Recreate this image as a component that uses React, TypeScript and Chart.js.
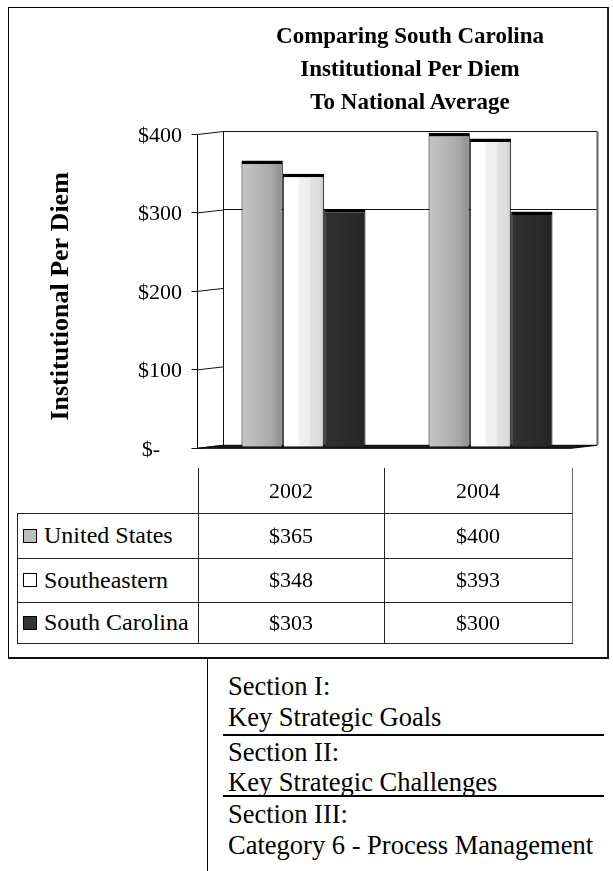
import React, { useEffect, useRef } from 'react';
import { Chart, registerables } from 'chart.js';

Chart.register(...registerables);

// ---- data ----
const categories = ['2002', '2004'];
const seriesNames = ['United States', 'Southeastern', 'South Carolina'];
const unitedStates = [365, 400];
const southeastern = [348, 393];
const southCarolina = [303, 300];
const seriesValues = [unitedStates, southeastern, southCarolina];
const yTicks = [0, 100, 200, 300, 400];
const backWallGridValues = [300, 400];
const titleLines = ['Comparing South Carolina', 'Institutional Per Diem', 'To National Average'];
const yAxisTitle = 'Institutional Per Diem';
const sectionBlocks = [
  ['Section I:', 'Key Strategic Goals'],
  ['Section II:', 'Key Strategic Challenges'],
  ['Section III:', 'Category 6 - Process Management'],
];

// ---- styles ----
const SERIF = '"Liberation Serif", "Times New Roman", serif';
const CAT_PCT = 0.663;
const swatchColors = ['#bdbdbd', '#ffffff', '#333333'];
const gradientStops: [number, string][][] = [
  [[0, '#c6c6c6'], [0.45, '#b4b4b4'], [0.75, '#a6a6a6'], [1, '#8c8c8c']],
  [[0, '#ffffff'], [0.36, '#ffffff'], [0.4, '#f1f1f1'], [0.64, '#eeeeee'], [0.68, '#e2e2e2'], [0.9, '#dcdcdc'], [1, '#c4c4c4']],
  [[0, '#313131'], [0.5, '#2c2c2c'], [1, '#252525']],
];

const fmt = (v: number) => (v === 0 ? '$-    ' : '$' + v);

function barFill(dsIndex: number) {
  return (c: any) => {
    const chart = c.chart;
    const xs = chart.scales && chart.scales.x;
    const stops = gradientStops[dsIndex];
    if (!xs || c.dataIndex == null || !isFinite(xs.left) || !isFinite(xs.right)) return stops[1][1];
    const catW = (xs.right - xs.left) / categories.length;
    const cx = xs.getPixelForValue(c.dataIndex);
    const groupW = catW * CAT_PCT;
    const bw = groupW / seriesValues.length;
    const left = cx - groupW / 2 + bw * dsIndex;
    const g = chart.ctx.createLinearGradient(left, 0, left + bw, 0);
    stops.forEach(([o, col]) => g.addColorStop(o, col));
    return g;
  };
}

const crisp = (v: number) => Math.round(v - 0.5) + 0.5;

const wallPlugin = {
  id: 'wall3d',
  beforeDatasetsDraw(chart: any) {
    const { ctx, chartArea: a, scales } = chart;
    const y = scales.y;
    const DX = 13;
    const DY = 1.5;
    const fl = crisp(a.left - DX);
    const fr = a.right - DX;
    const bl = crisp(a.left + DX);
    const br = a.right + DX;
    const y0 = y.getPixelForValue(0);
    const yMax = y.getPixelForValue(y.max);
    const line = (x1: number, y1: number, x2: number, y2: number, col = '#111', w = 1) => {
      ctx.beginPath();
      ctx.strokeStyle = col;
      ctx.lineWidth = w;
      ctx.moveTo(x1, y1);
      ctx.lineTo(x2, y2);
      ctx.stroke();
    };
    ctx.save();
    // floor
    ctx.beginPath();
    ctx.moveTo(fl, y0 + DY);
    ctx.lineTo(fr, y0 + DY);
    ctx.lineTo(br, y0 - DY);
    ctx.lineTo(bl, y0 - DY);
    ctx.closePath();
    ctx.fillStyle = '#1a1a1a';
    ctx.fill();
    ctx.strokeStyle = '#000';
    ctx.lineWidth = 1;
    ctx.stroke();
    // side wall + tick marks at every tick
    y.ticks.forEach((t: any) => {
      const py = y.getPixelForValue(t.value);
      line(fl, py + DY, bl, py - DY);
      line(fl - 6, crisp(py + DY), fl, crisp(py + DY));
    });
    // back wall grid lines
    backWallGridValues.forEach((v) => {
      const py = y.getPixelForValue(v);
      line(bl, crisp(py - DY), br, crisp(py - DY));
    });
    // back wall verticals
    line(bl, yMax - DY, bl, y0 - DY);
    line(br + 0.5, yMax - DY, br + 0.5, y0 - DY, '#666', 2);
    // front axis
    line(fl, yMax + DY, fl, y0 + DY, '#000');
    ctx.restore();
  },
};

// ---- layout (page coordinates) ----
const TABLE_X = [17, 198, 384, 572];
const TABLE_Y = [468, 513, 558, 602, 643];
const SECTION_LINE_CENTERS = [[686, 717], [752, 782], [814, 845]];
const SECTION_RULES = [734, 795];

export default function App() {
  const ref = useRef<HTMLCanvasElement>(null);

  useEffect(() => {
    const chart = new Chart(ref.current as HTMLCanvasElement, {
      type: 'bar',
      data: {
        labels: categories,
        datasets: seriesValues.map((vals, i) => ({
          label: seriesNames[i],
          data: vals,
          backgroundColor: barFill(i),
          borderColor: '#000',
          borderWidth: { top: 3.5, left: 1, right: 1, bottom: 0 },
          categoryPercentage: CAT_PCT,
          barPercentage: 1,
        })),
      },
      options: {
        animation: false,
        responsive: false,
        layout: { padding: { left: 35, right: 24, top: 125, bottom: 21.5 } },
        plugins: {
          legend: { display: false },
          title: { display: false },
          tooltip: { enabled: false },
        },
        scales: {
          x: { display: false },
          y: {
            min: 0,
            max: 400,
            afterBuildTicks: (s: any) => {
              s.ticks = yTicks.map((v) => ({ value: v }));
            },
            afterFit: (s: any) => {
              s.width = 167;
            },
            grid: { display: false, drawTicks: false },
            border: { display: false },
            ticks: {
              padding: 28,
              labelOffset: 3,
              color: '#000',
              font: { family: SERIF, size: 22 },
              callback: (v: any) => fmt(Number(v)),
            },
            title: {
              display: true,
              text: yAxisTitle + '  ',
              color: '#000',
              font: { family: SERIF, size: 26, weight: 'bold' },
              padding: { top: 3, bottom: 4 },
            },
          },
        },
      } as any,
      plugins: [wallPlugin],
    });
    return () => chart.destroy();
  }, []);

  const abs = (s: React.CSSProperties): React.CSSProperties => ({ position: 'absolute', ...s });
  const lines: React.ReactNode[] = [];
  for (let r = 1; r < TABLE_Y.length; r++) {
    lines.push(
      <div key={'h' + r} style={abs({ left: TABLE_X[0], top: TABLE_Y[r], width: TABLE_X[3] - TABLE_X[0] + 1, height: 1, background: '#222' })} />
    );
  }
  lines.push(<div key="v0" style={abs({ left: TABLE_X[0], top: TABLE_Y[1], width: 1, height: TABLE_Y[4] - TABLE_Y[1], background: '#222' })} />);
  for (let c = 1; c < TABLE_X.length; c++) {
    lines.push(
      <div key={'v' + c} style={abs({ left: TABLE_X[c], top: TABLE_Y[0], width: 1, height: TABLE_Y[4] - TABLE_Y[0], background: c === 3 ? '#666' : '#222' })} />
    );
  }

  const cell = (key: string, x0: number, x1: number, y0: number, y1: number, content: React.ReactNode, justify = 'center') => (
    <div
      key={key}
      style={abs({
        left: x0,
        top: y0,
        width: x1 - x0,
        height: y1 - y0,
        display: 'flex',
        alignItems: 'center',
        justifyContent: justify,
        fontFamily: SERIF,
        fontSize: 22,
        color: '#000',
        whiteSpace: 'nowrap',
      })}
    >
      {content}
    </div>
  );

  const cells: React.ReactNode[] = [];
  categories.forEach((cat, c) => {
    cells.push(cell('hd' + c, TABLE_X[c + 1], TABLE_X[c + 2], TABLE_Y[0], TABLE_Y[1], cat));
  });
  seriesNames.forEach((name, r) => {
    cells.push(
      cell(
        'lg' + r,
        TABLE_X[0],
        TABLE_X[1],
        TABLE_Y[r + 1],
        TABLE_Y[r + 2],
        <>
          <span style={{ display: 'inline-block', width: 12, height: 12, border: '1px solid #000', background: swatchColors[r], marginLeft: 6, marginRight: 7 }} />
          <span style={{ fontSize: 24 }}>{name}</span>
        </>,
        'flex-start'
      )
    );
    categories.forEach((_, c) => {
      cells.push(cell('v' + r + c, TABLE_X[c + 1], TABLE_X[c + 2], TABLE_Y[r + 1], TABLE_Y[r + 2], fmt(seriesValues[r][c])));
    });
  });

  return (
    <div style={abs({ left: 0, top: 0, width: 613, height: 871, overflow: 'hidden', background: '#fff' })}>
      <div
        style={abs({
          left: 8,
          top: 7,
          width: 601,
          height: 652,
          boxSizing: 'border-box',
          borderLeft: '1px solid #000',
          borderTop: '1px solid #000',
          borderRight: '2px solid #222',
          borderBottom: '2px solid #111',
        })}
      />
      <canvas ref={ref} width={600} height={480} style={abs({ left: 8, top: 8, width: 600, height: 480 })} />
      <div
        style={abs({
          left: 210,
          top: 18.5,
          width: 400,
          textAlign: 'center',
          fontFamily: SERIF,
          fontWeight: 'bold',
          fontSize: 23,
          lineHeight: '33px',
          color: '#000',
        })}
      >
        {titleLines.map((t, i) => (
          <div key={i}>{t}</div>
        ))}
      </div>
      {lines}
      {cells}
      <div style={abs({ left: 207, top: 659, width: 1, height: 212, background: '#000' })} />
      {SECTION_RULES.map((y, i) => (
        <div key={'r' + i} style={abs({ left: 223, top: y, width: 381, height: 2, background: '#000' })} />
      ))}
      {sectionBlocks.map((blk, b) =>
        blk.map((t, j) => (
          <div
            key={'s' + b + j}
            style={abs({
              left: 228,
              top: SECTION_LINE_CENTERS[b][j] - 15,
              height: 30,
              lineHeight: '30px',
              fontFamily: SERIF,
              fontSize: 26.5,
              color: '#000',
              whiteSpace: 'nowrap',
            })}
          >
            {t}
          </div>
        ))
      )}
    </div>
  );
}
